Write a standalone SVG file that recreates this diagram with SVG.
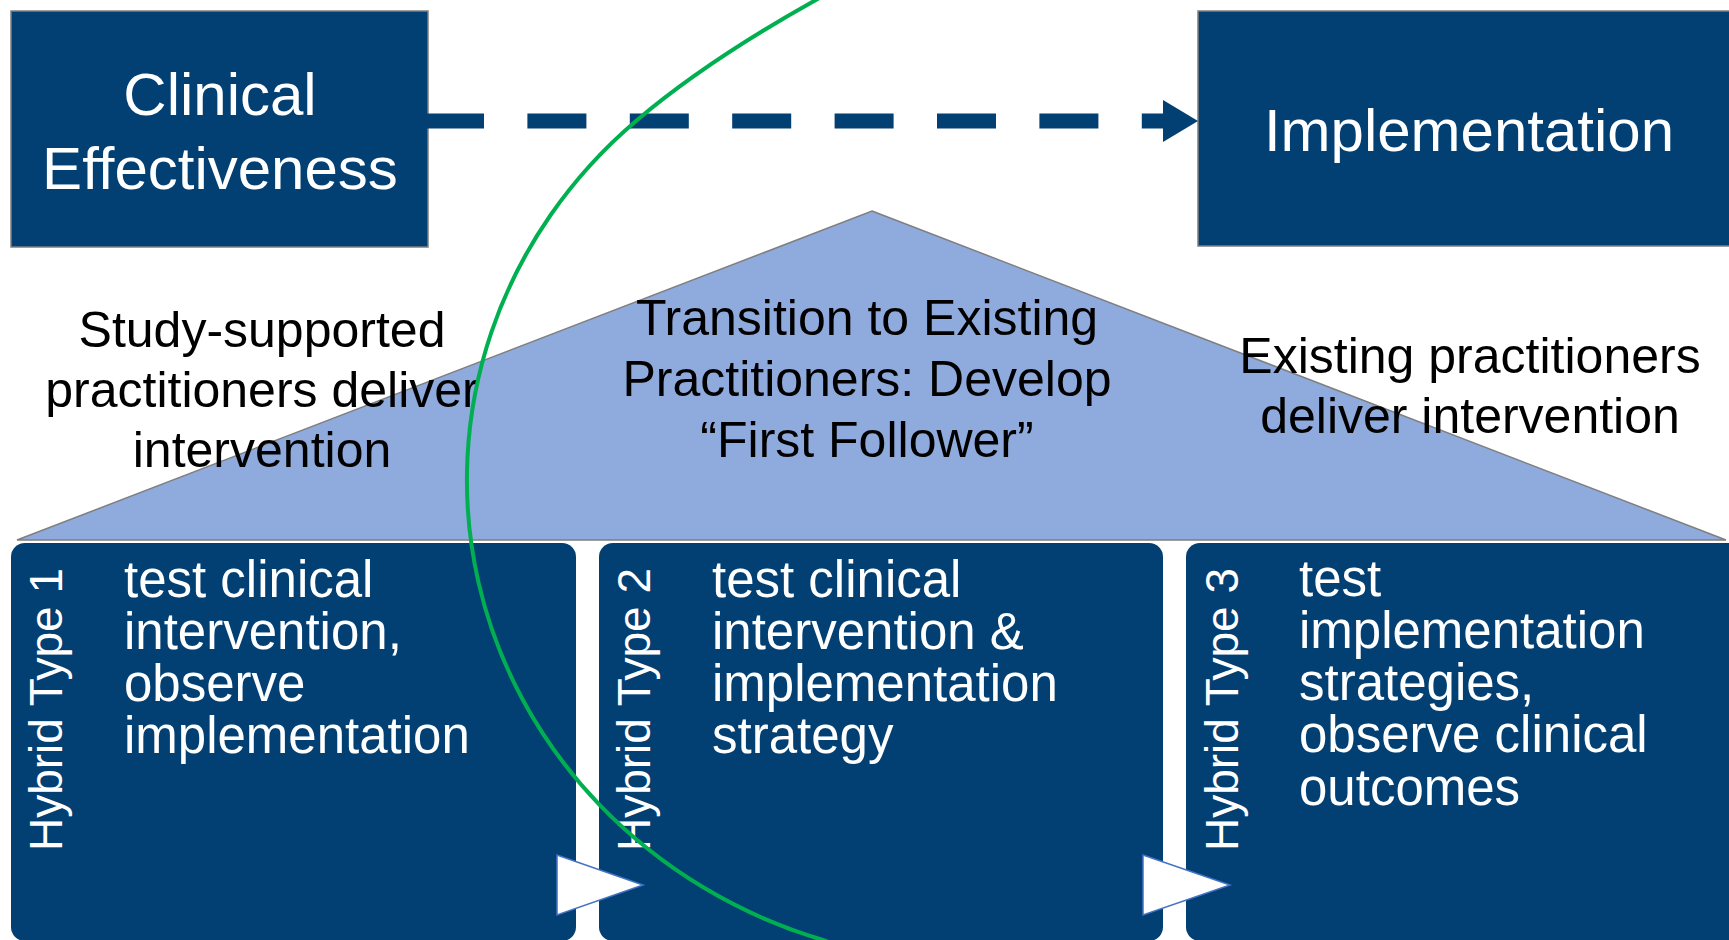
<svg xmlns="http://www.w3.org/2000/svg" width="1729" height="940" viewBox="0 0 1729 940">
<style>
.box{fill:#023F73;stroke:#7F7F7F;stroke-width:1.5}
.hbox{fill:#023F73}
.wt{font-family:"Liberation Sans",Arial,sans-serif;fill:#FFFFFF}
.bt{font-family:"Liberation Sans",Arial,sans-serif;fill:#000000;font-size:50px;text-anchor:middle}
.big{font-size:60px;text-anchor:middle}
.vl{font-size:46px}
.bx{font-size:51px}
.warr{fill:#FFFFFF;stroke:#4472C4;stroke-width:1.5;stroke-linejoin:miter}
</style>
<rect x="0" y="0" width="1729" height="940" fill="#FFFFFF"/>

<g id="triangle">
<polygon points="872,211 1726,540 17,540" fill="#8FAADC" stroke="#7F7F7F" stroke-width="1.5"/>
</g>

<g id="clinical-effectiveness">
<rect class="box" x="11" y="11" width="417" height="236"/>
<text class="wt big" x="220" y="115">Clinical</text>
<text class="wt big" x="220" y="189">Effectiveness</text>
</g>

<g id="implementation">
<rect class="box" x="1198" y="11" width="560" height="235"/>
<text class="wt big" x="1469" y="151">Implementation</text>
</g>

<g id="connectors">
<line x1="425" y1="121" x2="1166" y2="121" stroke="#023F73" stroke-width="15" stroke-dasharray="59 43.4"/>
<polygon points="1163,100 1198,121 1163,142" fill="#023F73"/>
</g>

<g id="label-study">
<text class="bt" x="262" y="347">Study-supported</text>
<text class="bt" x="262" y="407">practitioners deliver</text>
<text class="bt" x="262" y="467">intervention</text>
</g>

<g id="label-transition">
<text class="bt" x="867" y="335">Transition to Existing</text>
<text class="bt" x="867" y="396">Practitioners: Develop</text>
<text class="bt" x="867" y="457">“First Follower”</text>
</g>

<g id="label-existing">
<text class="bt" x="1470" y="373">Existing practitioners</text>
<text class="bt" x="1470" y="433">deliver intervention</text>
</g>

<g id="hybrid-1">
<rect class="hbox" x="11" y="543" width="565" height="398" rx="14" ry="14"/>
<text class="wt vl" transform="translate(62,851) rotate(-90)">Hybrid Type 1</text>
<text class="wt bx" x="124" y="597">test clinical</text>
<text class="wt bx" x="124" y="649">intervention,</text>
<text class="wt bx" x="124" y="701">observe</text>
<text class="wt bx" x="124" y="753">implementation</text>
</g>

<g id="hybrid-2">
<rect class="hbox" x="599" y="543" width="564" height="398" rx="14" ry="14"/>
<text class="wt vl" transform="translate(650,851) rotate(-90)">Hybrid Type 2</text>
<text class="wt bx" x="712" y="597">test clinical</text>
<text class="wt bx" x="712" y="649">intervention &amp;</text>
<text class="wt bx" x="712" y="701">implementation</text>
<text class="wt bx" x="712" y="753">strategy</text>
</g>

<g id="hybrid-3">
<rect class="hbox" x="1186" y="543" width="580" height="398" rx="14" ry="14"/>
<text class="wt vl" transform="translate(1238,851) rotate(-90)">Hybrid Type 3</text>
<text class="wt bx" x="1299" y="596">test</text>
<text class="wt bx" x="1299" y="648">implementation</text>
<text class="wt bx" x="1299" y="700">strategies,</text>
<text class="wt bx" x="1299" y="752">observe clinical</text>
<text class="wt bx" x="1299" y="805">outcomes</text>
</g>

<g id="flow-arrows">
<polygon class="warr" points="557,855 643,885 557,915"/>
<polygon class="warr" points="1143,855 1230,885 1143,915"/>
</g>

<g id="highlight">
<path d="M 823,-4 C 747,38 683,81 636,121 A 508 482 0 0 0 823,940 L 845,948" fill="none" stroke="#00B050" stroke-width="4"/>
</g>
</svg>
